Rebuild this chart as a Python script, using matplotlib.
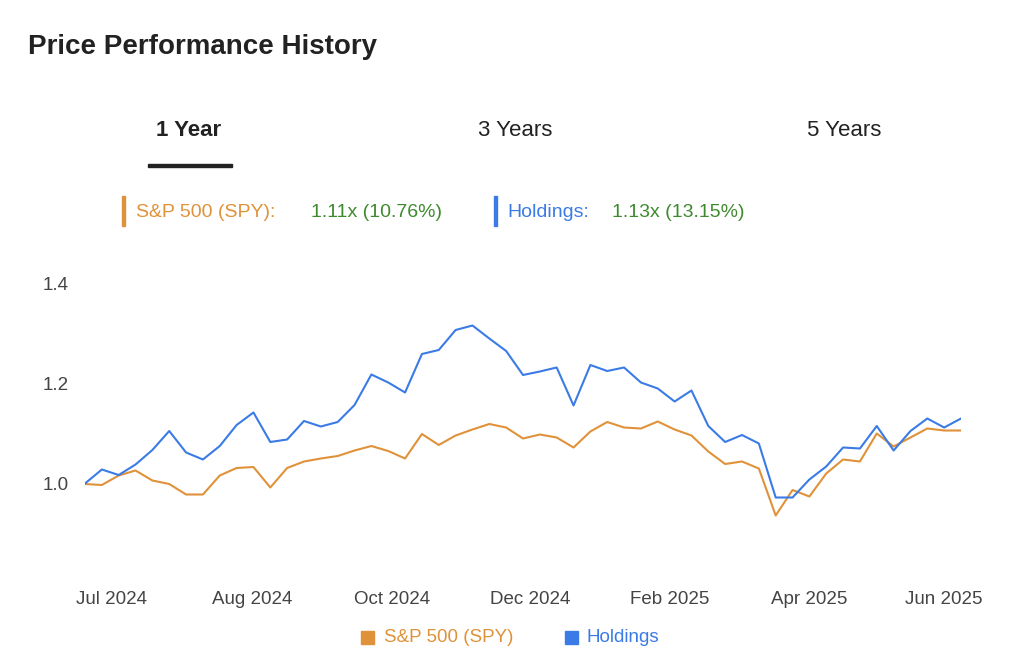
import matplotlib
matplotlib.use("Agg")
import matplotlib.pyplot as plt
from matplotlib.patches import Rectangle

plt.rcParams["font.family"] = "Liberation Sans"

holdings = [1.001,1.029,1.018,1.039,1.068,1.106,1.063,1.049,1.076,1.118,1.143,1.084,1.089,1.126,1.115,1.124,1.158,1.219,1.203,1.183,1.26,1.268,1.308,1.317,1.291,1.266,1.218,
            1.225,1.233,1.157,1.238,1.226,1.233,1.203,1.191,1.165,1.187,1.116,1.084,1.098,1.081,0.973,0.973,1.009,1.035,1.073,1.071,1.116,1.067,1.106,1.131,1.113,1.131]
spy = [1.0,0.998,1.017,1.027,1.007,1.0,0.979,0.979,1.017,1.032,1.034,0.993,1.032,1.045,1.051,1.056,1.067,1.076,1.066,1.051,1.1,1.078,1.097,1.109,1.12,1.113,1.091,
       1.099,1.093,1.073,1.105,1.124,1.113,1.111,1.125,1.109,1.097,1.065,1.04,1.045,1.031,0.937,0.988,0.975,1.021,1.049,1.045,1.101,1.075,1.093,1.111,1.107,1.107]
xtick_pos = [1.6, 9.9, 18.2, 26.4, 34.7, 43.0, 51.0]
xtick_labels = ["Jul 2024","Aug 2024","Oct 2024","Dec 2024","Feb 2025","Apr 2025","Jun 2025"]
yticks = [1.0, 1.2, 1.4]

ORANGE = "#E0923A"; BLUE = "#3B7BE6"; GREEN = "#3F8A2F"; GREY = "#444444"

fig = plt.figure(figsize=(10.24, 6.56), dpi=100)
W, H = 1024, 656
ax = fig.add_axes([85/W, 1-560/H, (961-85)/W, 300/H])
x = list(range(len(spy)))
ax.plot(x, spy, color=ORANGE, lw=1.5)
ax.plot(x, holdings, color=BLUE, lw=1.5)
ax.set_xlim(0, len(spy)-1)
ax.set_ylim(0.848, 1.448)
for s in ax.spines.values():
    s.set_visible(False)
ax.set_yticks(yticks)
ax.set_yticklabels([f"{v:.1f}" for v in yticks], fontsize=13.5, color=GREY)
ax.set_xticks(xtick_pos)
ax.set_xticklabels(xtick_labels, fontsize=13.5, color=GREY)
ax.tick_params(axis="y", length=0, pad=12)
ax.tick_params(axis="x", length=0, pad=22)

fig.text(28/W, 1-47/H, "Price Performance History", fontsize=20, fontweight="bold", color="#222222", va="center")
fig.text(189/W, 1-131/H, "1 Year", fontsize=16, fontweight="bold", color="#222222", ha="center", va="center")
fig.text(515/W, 1-131/H, "3 Years", fontsize=16, color="#222222", ha="center", va="center")
fig.text(844/W, 1-131/H, "5 Years", fontsize=16, color="#222222", ha="center", va="center")
fig.add_artist(Rectangle((148/W, 1-167/H), 84/W, 3/H, color="#222222", transform=fig.transFigure))

# top legend
fig.add_artist(Rectangle((122/W, 1-226/H), 3/W, 30/H, color=ORANGE, transform=fig.transFigure))
fig.text(136/W, 1-212/H, "S&P 500 (SPY):", fontsize=14, color=ORANGE, va="center")
fig.text(311/W, 1-212/H, "1.11x (10.76%)", fontsize=14, color=GREEN, va="center")
fig.add_artist(Rectangle((494/W, 1-226/H), 3/W, 30/H, color=BLUE, transform=fig.transFigure))
fig.text(507/W, 1-212/H, "Holdings:", fontsize=14, color=BLUE, va="center")
fig.text(612/W, 1-212/H, "1.13x (13.15%)", fontsize=14, color=GREEN, va="center")

# bottom legend
fig.add_artist(Rectangle((361/W, 1-644/H), 13/W, 13/H, color=ORANGE, transform=fig.transFigure))
fig.text(384/W, 1-637/H, "S&P 500 (SPY)", fontsize=13.5, color=ORANGE, va="center")
fig.add_artist(Rectangle((565/W, 1-644/H), 13/W, 13/H, color=BLUE, transform=fig.transFigure))
fig.text(587/W, 1-637/H, "Holdings", fontsize=13.5, color=BLUE, va="center")

fig.savefig("out.png", dpi=100)
